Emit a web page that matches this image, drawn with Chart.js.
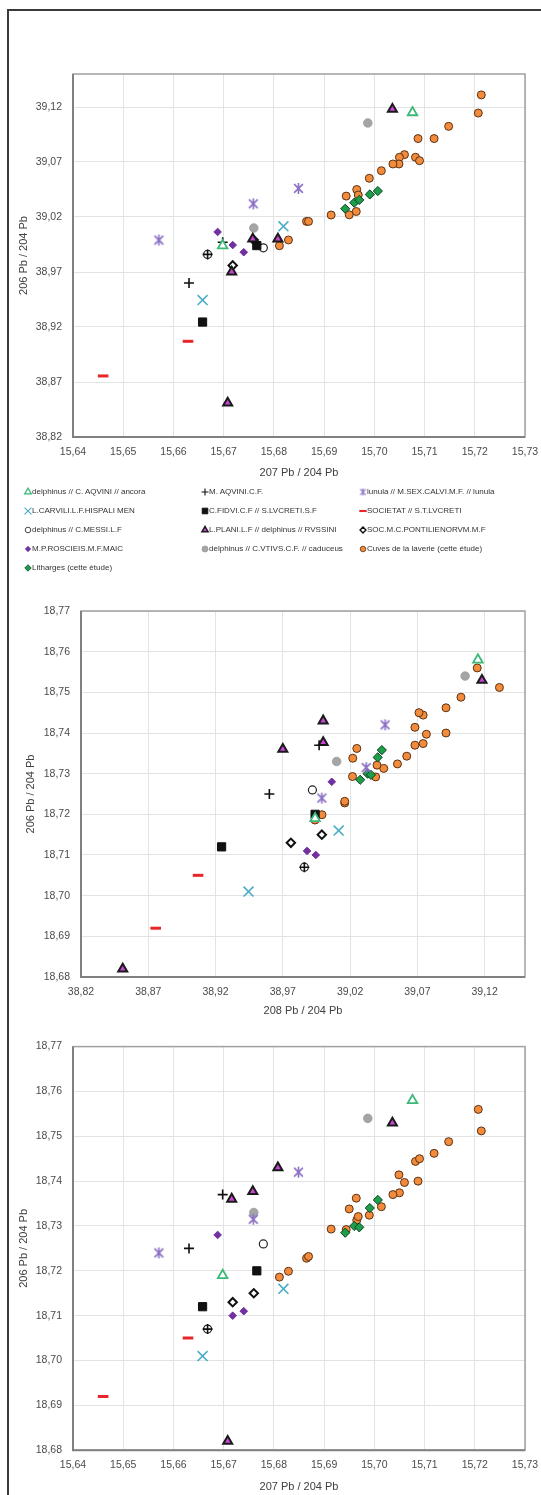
<!DOCTYPE html>
<html><head><meta charset="utf-8">
<script src="https://cdn.jsdelivr.net/npm/chart.js@4"></script>
<style>
html,body{margin:0;padding:0;background:#fff;width:541px;height:1495px;overflow:hidden;}
#frame{position:absolute;left:7px;top:9px;width:600px;height:1500px;border-left:2px solid #3a3a3a;border-top:2px solid #3a3a3a;}
.chart{position:absolute;left:0;width:541px;}
#legend{position:absolute;left:0;top:480px;width:541px;height:100px;font-family:'Liberation Sans',Arial,sans-serif;font-size:8px;color:#333;}
.li{position:absolute;white-space:nowrap;height:12px;line-height:12px;}
.li canvas{position:absolute;left:0;top:1px;width:10px;height:10px;}
.li span{position:absolute;left:9px;top:0;}
</style>
</head><body>
<div id="frame"></div>
<div class="chart" style="top:56px;height:434px"><canvas id="c1"></canvas></div>
<div id="legend"></div>
<div class="chart" style="top:590px;height:440px"><canvas id="c2"></canvas></div>
<div class="chart" style="top:1030px;height:465px"><canvas id="c3"></canvas></div>
<script>
// ---------- tick labels ----------
const ticks207 = [15.64,15.65,15.66,15.67,15.68,15.69,15.70,15.71,15.72,15.73];
const ticks208 = [38.82,38.87,38.92,38.97,39.02,39.07,39.12];
const ticks206 = [18.68,18.69,18.70,18.71,18.72,18.73,18.74,18.75,18.76,18.77];

// ---------- data (207Pb/204Pb, 208Pb/204Pb, 206Pb/204Pb per sample) ----------
const ancora207 = [15.7076, 15.6698];
const ancora208 = [39.115, 38.994];
const ancora206 = [18.758, 18.719];

const aquini207 = [15.6631, 15.6698, 15.6668];
const aquini208 = [38.960, 38.997, 38.986];
const aquini206 = [18.725, 18.737, 18.707];

const lunula207 = [15.6571, 15.6759, 15.6849];
const lunula208 = [38.999, 39.032, 39.046];
const lunula206 = [18.724, 18.7315, 18.742];

const carvili207 = [15.6658, 15.6819];
const carvili208 = [38.9445, 39.0115];
const carvili206 = [18.701, 18.716];

const fidvi207 = [15.6658, 15.6766];
const fidvi208 = [38.9245, 38.994];
const fidvi206 = [18.712, 18.720];

const societat207 = [15.6629, 15.646];
const societat208 = [38.907, 38.8755];
const societat206 = [18.705, 18.692];

const messi207 = [15.6779, 15.6668];
const messi208 = [38.992, 38.986];
const messi206 = [18.726, 18.707];

const plani207 = [15.7036, 15.6708, 15.6716, 15.6758, 15.6808];
const plani208 = [39.118, 38.851, 38.970, 39.000, 39.000];
const plani206 = [18.753, 18.682, 18.736, 18.7377, 18.743];

const pontil207 = [15.6718, 15.676];
const pontil208 = [38.976, 38.999];
const pontil206 = [18.713, 18.715];

const rosc207 = [15.6688, 15.6718, 15.674];
const rosc208 = [39.0064, 38.9945, 38.988];
const rosc206 = [18.728, 18.710, 18.711];

const vtivs207 = [15.6987, 15.676];
const vtivs208 = [39.1055, 39.010];
const vtivs206 = [18.754, 18.733];

const cuves207 = [15.7213,15.7207,15.7148,15.7119,15.7087,15.7082,15.7090,15.7060,15.7050,15.7049,15.7037,15.7014,15.6990,15.6965,15.6968,15.6944,15.6964,15.6950,15.6914,15.6865,15.6869,15.6829,15.6811];
const cuves208 = [39.131,39.1145,39.1024,39.0913,39.0913,39.0743,39.0712,39.0767,39.0743,39.0682,39.0682,39.0621,39.0552,39.045,39.040,39.039,39.025,39.022,39.0218,39.016,39.016,38.9991,38.9939];
const cuves206 = [18.7512,18.756,18.7488,18.7462,18.740,18.7444,18.745,18.7397,18.7374,18.7414,18.737,18.7343,18.7324,18.7313,18.7321,18.7292,18.7362,18.7338,18.7293,18.7228,18.7232,18.7199,18.7186];

const lith207 = [15.6942, 15.6960, 15.6970, 15.6991, 15.7007];
const lith208 = [39.0275, 39.033, 39.0355, 39.0405, 39.0436];
const lith206 = [18.7285, 18.730, 18.7297, 18.734, 18.7358];

// ---------- styles ----------
const FONT = "'Liberation Sans',Arial,sans-serif";
function makeStar(color, size, lw){
  const c = document.createElement('canvas'); c.width = size; c.height = size;
  const g = c.getContext('2d'); g.strokeStyle = color; g.lineWidth = lw; g.lineCap='butt';
  const m = size/2, d = size/2 - 1;
  g.beginPath();
  g.moveTo(m, m-d); g.lineTo(m, m+d);
  const e = d*0.8;
  g.moveTo(m-e, m-e); g.lineTo(m+e, m+e);
  g.moveTo(m+e, m-e); g.lineTo(m-e, m+e);
  g.stroke();
  return c;
}
const starBig = makeStar('#8a6fc4', 13, 1.6);
const starSmall = makeStar('#8a6fc4', 9, 1.2);

const series = [
  {label:'delphinus // C. AQVINI // ancora', a:ancora207, b:ancora208, c:ancora206, ps:'triangle', r:5.5, bg:'#ffffff', bd:'#3cb878', bw:1.8, col:0,row:0},
  {label:'M. AQVINI.C.F.', a:aquini207, b:aquini208, c:aquini206, ps:'cross', r:5, bg:'#000', bd:'#111', bw:1.6, col:1,row:0},
  {label:'lunula // M.SEX.CALVI.M.F. // lunula', a:lunula207, b:lunula208, c:lunula206, ps:starBig, lps:starSmall, r:6, bg:'#8a6fc4', bd:'#8a6fc4', bw:1, col:2,row:0},
  {label:'L.CARVILI.L.F.HISPALI MEN', a:carvili207, b:carvili208, c:carvili206, ps:'crossRot', r:7, bg:'#4bacc6', bd:'#4bacc6', bw:1.6, col:0,row:1},
  {label:'C.FIDVI.C.F // S.LVCRETI.S.F', a:fidvi207, b:fidvi208, c:fidvi206, ps:'rect', r:5.8, bg:'#111', bd:'#111', bw:1, col:1,row:1},
  {label:'SOCIETAT // S.T.LVCRETI', a:societat207, b:societat208, c:societat206, ps:'line', r:5.3, bg:'#e8262a', bd:'#e8262a', bw:3, col:2,row:1},
  {label:'delphinus // C.MESSI.L.F', a:messi207, b:messi208, c:messi206, ps:'circle', r:4, bg:'#ffffff', bd:'#222', bw:1.2, col:0,row:2},
  {label:'L.PLANI.L.F // delphinus // RVSSINI', a:plani207, b:plani208, c:plani206, ps:'triangle', r:5.2, bg:'#c945d6', bd:'#1a1a1a', bw:2, col:1,row:2},
  {label:'SOC.M.C.PONTILIENORVM.M.F', a:pontil207, b:pontil208, c:pontil206, ps:'rectRot', r:4.2, bg:'#ffffff', bd:'#111', bw:2, col:2,row:2},
  {label:'M.P.ROSCIEIS.M.F.MAIC', a:rosc207, b:rosc208, c:rosc206, ps:'rectRot', r:3.8, bg:'#7030a0', bd:'#7030a0', bw:1, col:0,row:3},
  {label:'delphinus // C.VTIVS.C.F. // caduceus', a:vtivs207, b:vtivs208, c:vtivs206, ps:'circle', r:4.3, bg:'#a5a5a5', bd:'#9a9a9a', bw:0.8, col:1,row:3},
  {label:'Litharges (cette étude)', a:lith207, b:lith208, c:lith206, ps:'rectRot', r:4.6, bg:'#1e9e4a', bd:'#0b4020', bw:1, col:0,row:4},
  {label:'Cuves de la laverie (cette étude)', a:cuves207, b:cuves208, c:cuves206, ps:'circle', r:4, bg:'#f28b3c', bd:'#5a3214', bw:1, col:2,row:3}
];

// ---------- frame plugin ----------
const framePlugin = {
  id:'frame',
  beforeDatasetsDraw(chart){
    const {ctx, chartArea:a} = chart;
    ctx.save();
    ctx.strokeStyle = '#a0a0a0'; ctx.lineWidth = 1.5;
    ctx.strokeRect(a.left, a.top, a.right-a.left, a.bottom-a.top);
    ctx.strokeStyle = '#808080'; ctx.lineWidth = 2;
    ctx.beginPath();
    ctx.moveTo(a.left, a.top); ctx.lineTo(a.left, a.bottom); ctx.lineTo(a.right, a.bottom);
    ctx.stroke();
    ctx.restore();
  }
};

const fmt = v => Number(v).toFixed(2).replace('.', ',');

function makeChart(id, xk, yk, xr, yr, xt, yt, xTitle, yTitle, g){
  const datasets = series.map(s => ({
    label: s.label,
    data: s[xk].map((x,i) => ({x:x, y:s[yk][i]})),
    pointStyle: s.ps, pointRadius: s.r, pointHoverRadius: s.r,
    backgroundColor: s.bg, borderColor: s.bd, borderWidth: s.bw,
    showLine:false
  }));
  return new Chart(document.getElementById(id), {
    type:'scatter',
    data:{datasets},
    plugins:[framePlugin],
    options:{
      responsive:true, maintainAspectRatio:false, animation:false,
      layout:{padding:{top:g.top, right:16, left:0, bottom:0}},
      plugins:{legend:{display:false}, tooltip:{enabled:false}},
      scales:{
        x:{
          type:'linear', min:xr[0], max:xr[1],
          afterBuildTicks: sc => { sc.ticks = xt.map(v => ({value:v})); },
          afterFit: sc => { sc.height = g.xh; sc.paddingLeft = 0; sc.paddingRight = 0; },
          grid:{color:'#e3e3e3', lineWidth:1, drawTicks:false},
          border:{display:false},
          ticks:{autoSkip:false, maxRotation:0, padding:9, color:'#4a4a4a', font:{family:FONT, size:10.5}, callback:fmt},
          title:{display:true, text:xTitle, color:'#404040', font:{family:FONT, size:11}, padding:{top:0, bottom:g.xtp}}
        },
        y:{
          type:'linear', min:yr[0], max:yr[1],
          afterBuildTicks: sc => { sc.ticks = yt.map(v => ({value:v})); },
          afterFit: sc => { sc.width = g.yw; sc.paddingTop = 0; sc.paddingBottom = 0; },
          grid:{color:'#e3e3e3', lineWidth:1, drawTicks:false},
          border:{display:false},
          ticks:{autoSkip:false, padding:11, color:'#4a4a4a', font:{family:FONT, size:10.5}, callback:fmt},
          title:{display:true, text:yTitle, color:'#404040', font:{family:FONT, size:11}, padding:{top:g.ytp, bottom:0}}
        }
      }
    }
  });
}

makeChart('c1','a','b',[15.64,15.73],[38.82,39.15],ticks207,ticks208,'207 Pb / 204 Pb','206 Pb / 204 Pb',
  {top:18, xh:53, xtp:10, yw:73, ytp:17.4});
makeChart('c2','b','c',[38.82,39.15],[18.68,18.77],ticks208,ticks206,'208 Pb / 204 Pb','206 Pb / 204 Pb',
  {top:21, xh:53, xtp:12, yw:81, ytp:24});
makeChart('c3','a','c',[15.64,15.73],[18.68,18.77],ticks207,ticks206,'207 Pb / 204 Pb','206 Pb / 204 Pb',
  {top:16.6, xh:44.8, xtp:1, yw:73, ytp:17.4});

// ---------- legend ----------
function drawMarker(ctx, s, x, y, k){
  const r = s.r * k;
  ctx.save();
  ctx.fillStyle = s.bg; ctx.strokeStyle = s.bd; ctx.lineWidth = Math.max(0.8, s.bw*k);
  ctx.beginPath();
  const ps = s.lps || s.ps;
  if (typeof ps !== 'string'){ ctx.drawImage(ps, x-ps.width/2, y-ps.height/2); ctx.restore(); return; }
  switch(ps){
    case 'circle': ctx.arc(x,y,r,0,Math.PI*2); ctx.fill(); ctx.stroke(); break;
    case 'triangle':
      for (let i=0;i<3;i++){ const a=i*2*Math.PI/3; const px=x+Math.sin(a)*r, py=y-Math.cos(a)*r; i?ctx.lineTo(px,py):ctx.moveTo(px,py);} ctx.closePath(); ctx.fill(); ctx.stroke(); break;
    case 'rect': { const h=r*Math.SQRT1_2; ctx.rect(x-h,y-h,2*h,2*h); ctx.fill(); ctx.stroke(); break; }
    case 'rectRot': ctx.moveTo(x,y-r); ctx.lineTo(x+r,y); ctx.lineTo(x,y+r); ctx.lineTo(x-r,y); ctx.closePath(); ctx.fill(); ctx.stroke(); break;
    case 'cross': ctx.moveTo(x,y-r); ctx.lineTo(x,y+r); ctx.moveTo(x-r,y); ctx.lineTo(x+r,y); ctx.stroke(); break;
    case 'crossRot': { const d=r*Math.SQRT1_2; ctx.moveTo(x-d,y-d); ctx.lineTo(x+d,y+d); ctx.moveTo(x+d,y-d); ctx.lineTo(x-d,y+d); ctx.stroke(); break; }
    case 'line': ctx.moveTo(x-r,y); ctx.lineTo(x+r,y); ctx.stroke(); break;
  }
  ctx.restore();
}
const legendCols = [23, 200, 358];
const legendRows = [6, 25, 44, 63, 82];
const leg = document.getElementById('legend');
series.forEach(s => {
  const d = document.createElement('div'); d.className='li';
  d.style.left = legendCols[s.col]+'px'; d.style.top = legendRows[s.row]+'px';
  const cv = document.createElement('canvas'); cv.width=10; cv.height=10;
  drawMarker(cv.getContext('2d'), s, 5, 5, 0.7);
  const sp = document.createElement('span'); sp.textContent = s.label;
  d.appendChild(cv); d.appendChild(sp); leg.appendChild(d);
});
</script>
</body></html>
